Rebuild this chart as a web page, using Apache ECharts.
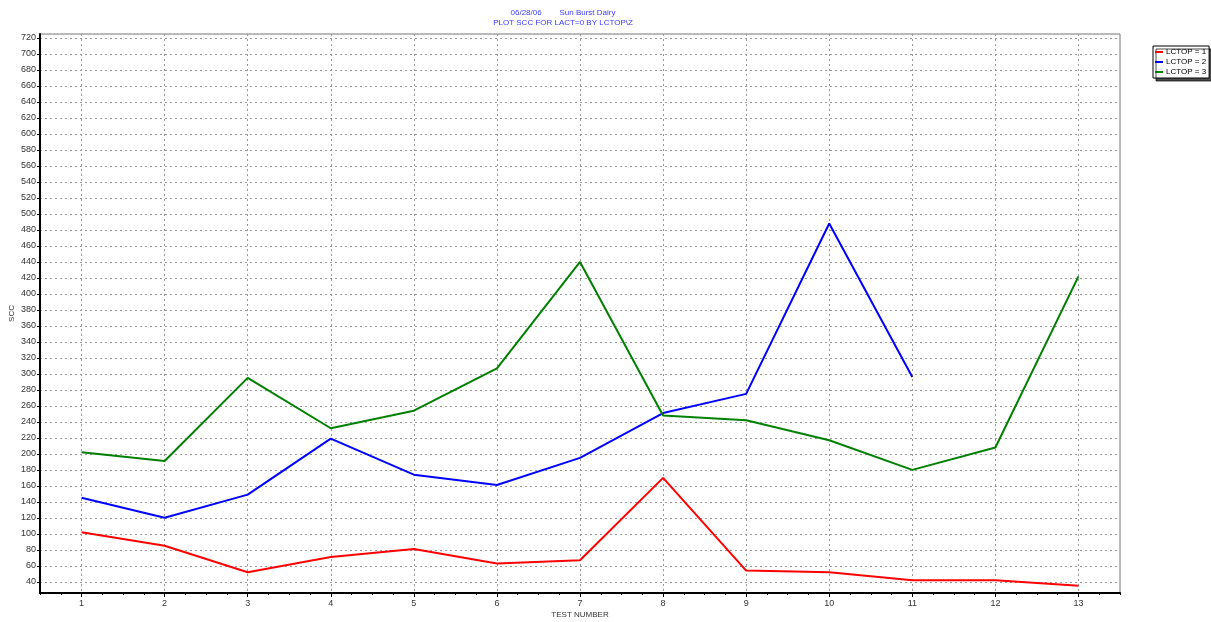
<!DOCTYPE html>
<html>
<head>
<meta charset="utf-8">
<script src="https://cdn.jsdelivr.net/npm/echarts@6/dist/echarts.min.js"></script>
<style>html,body{margin:0;padding:0;background:#fff}#c{width:1211px;height:622px}</style>
</head>
<body>
<div id="c"></div>
<script>
var tests = [1,2,3,4,5,6,7,8,9,10,11,12,13];
var lctop1 = [102,85,52,71,81,63,67,170,54,52,42,42,35];
var lctop2 = [145,120,149,219,174,161,195,251,275,488,296,null,null];
var lctop3 = [202,191,295,232,254,307,440,248,242,217,180,208,422];
var yTickValues = [40,60,80,100,120,140,160,180,200,220,240,260,280,300,320,340,360,380,400,420,440,460,480,500,520,540,560,580,600,620,640,660,680,700,720];
var yRange = {min:26, max:725};
var seriesNames = ['LCTOP = 1','LCTOP = 2','LCTOP = 3'];
var colors = ['#ff0000','#0000ff','#008000'];

var minors = [];
for (var k = 0; k <= 52; k++) { var v = 0.5 + k*0.25; if (Math.abs(v - Math.round(v)) > 1e-6) minors.push(v); }

function pairs(vals){ return tests.map(function(t,i){ return [t, vals[i]]; }); }

var font = 'Liberation Sans, Arial, sans-serif';
var chart = echarts.init(document.getElementById('c'), null, {renderer:'canvas'});
chart.setOption({
  animation:false,
  backgroundColor:'#fff',
  title:[
    {text:'06/28/06        Sun Burst Dairy', left:558, top:4, textAlign:'center',
     textStyle:{color:'#3a3aff', fontSize:8, fontWeight:'normal', fontFamily:font}},
    {text:'PLOT SCC FOR LACT=0 BY LCTOP\\Z', left:558, top:14, textAlign:'center',
     textStyle:{color:'#3a3aff', fontSize:8, fontWeight:'normal', fontFamily:font}}
  ],
  legend:{
    orient:'vertical', left:1153, top:46, padding:[2,3,2,2], itemGap:2,
    itemWidth:8, itemHeight:2, icon:'rect',
    backgroundColor:'#fff', borderColor:'#000', borderWidth:1, borderRadius:0,
    shadowColor:'rgba(0,0,0,0.7)', shadowOffsetX:3, shadowOffsetY:3, shadowBlur:0,
    textStyle:{fontSize:8, color:'#000', fontFamily:font, padding:[0,0,0,-2]},
    data:seriesNames
  },
  grid:{left:40, right:91, top:34, bottom:29, show:true, borderColor:'#777', borderWidth:1, containLabel:false, outerBoundsMode:'none'},
  xAxis:[
    {type:'value', min:0.5, max:13.5, position:'bottom',
     name:'TEST NUMBER', nameLocation:'middle', nameGap:18, nameMoveOverlap:false,
     nameTextStyle:{fontSize:8, color:'#333', fontFamily:font},
     axisLine:{show:true, lineStyle:{color:'#000', width:2}},
     axisTick:{show:true, customValues:tests, length:4, lineStyle:{color:'#000'}},
     axisLabel:{customValues:tests, fontSize:9, color:'#333', margin:6, fontFamily:font},
     splitLine:{show:true, lineStyle:{color:'#999', type:[2,3], width:1}}
    },
    {type:'value', min:0.5, max:13.5, position:'bottom',
     axisLine:{show:false},
     axisTick:{show:true, customValues:minors, length:2, lineStyle:{color:'#000'}},
     axisLabel:{show:false}, splitLine:{show:false}
    }
  ],
  yAxis:{
    type:'value', min:yRange.min, max:yRange.max,
    name:'SCC', nameLocation:'middle', nameGap:24, nameRotate:90, nameMoveOverlap:false,
    nameTextStyle:{fontSize:8, color:'#333', fontFamily:font},
    axisLine:{show:true, lineStyle:{color:'#000', width:2}},
    axisTick:{show:true, customValues:yTickValues, length:3, lineStyle:{color:'#000'}},
    axisLabel:{customValues:yTickValues, fontSize:9, color:'#333', margin:4, fontFamily:font},
    splitLine:{show:true, lineStyle:{color:'#999', type:[2,3], width:1}}
  },
  series:[
    {name:seriesNames[0], type:'line', data:pairs(lctop1), showSymbol:false, symbol:'none', lineStyle:{width:2, color:colors[0]}, itemStyle:{color:colors[0]}},
    {name:seriesNames[1], type:'line', data:pairs(lctop2), showSymbol:false, symbol:'none', lineStyle:{width:2, color:colors[1]}, itemStyle:{color:colors[1]}},
    {name:seriesNames[2], type:'line', data:pairs(lctop3), showSymbol:false, symbol:'none', lineStyle:{width:2, color:colors[2]}, itemStyle:{color:colors[2]}}
  ]
});
</script>
</body>
</html>
